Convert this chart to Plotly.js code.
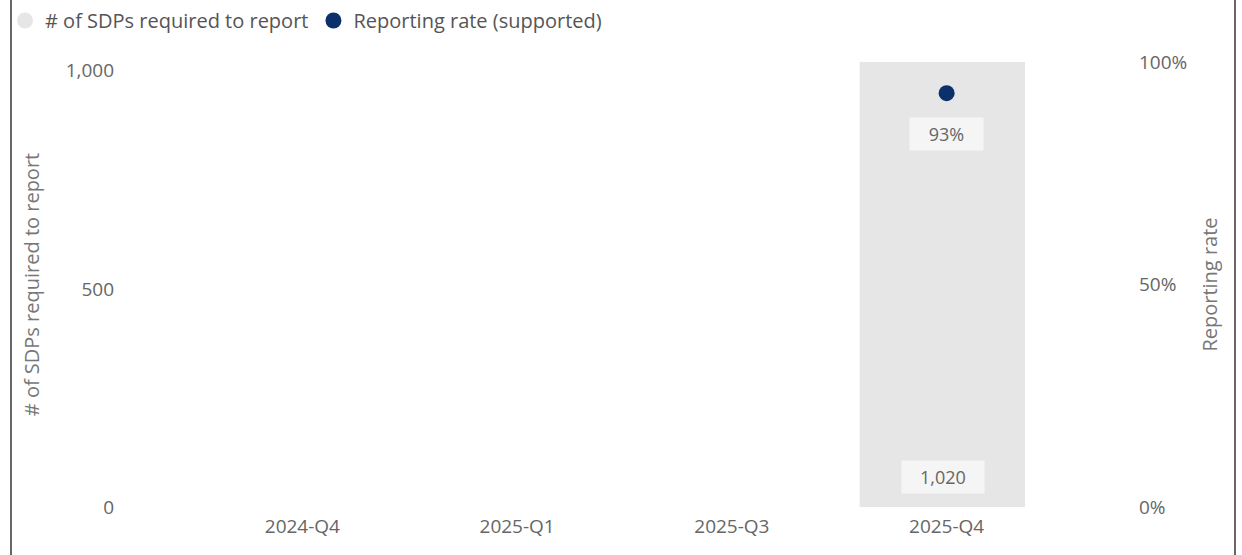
<!DOCTYPE html>
<html>
<head>
<meta charset="utf-8">
<script src="https://cdn.plot.ly/plotly-3.0.1.min.js"></script>
<style>
html,body{margin:0;padding:0;background:#fff;}
#wrap{position:relative;width:1242px;height:555px;}
#chart{width:1242px;height:555px;}
.edge{position:absolute;top:0;width:2px;height:555px;background:#6b6666;}
</style>
</head>
<body>
<div id="wrap">
<div id="chart"></div>
<div class="edge" style="left:10px"></div>
<div class="edge" style="left:1234px"></div>
</div>
<script>
const quarters = ["2024-Q4", "2025-Q1", "2025-Q3", "2025-Q4"];
const sdpsRequired = [null, null, null, 1020];
const reportingRate = [null, null, null, 0.93];
const seriesNames = ["# of SDPs required to report", "Reporting rate (supported)"];
const barColor = "#e6e6e6";
const dotColor = "#0b306b";
const font = "Open Sans, Noto Sans, sans-serif";

const traces = [
  {type: "bar", x: quarters, y: sdpsRequired, marker: {color: barColor}, width: 0.77, offset: -0.405,
   showlegend: false, hoverinfo: "skip", yaxis: "y"},
  {type: "scatter", mode: "markers", x: quarters, y: reportingRate, yaxis: "y2",
   marker: {color: dotColor, size: 16}, showlegend: false, hoverinfo: "skip"},
  {type: "scatter", mode: "markers", x: [null], y: [null], name: seriesNames[0],
   marker: {color: barColor, size: 17}},
  {type: "scatter", mode: "markers", x: [null], y: [null], name: seriesNames[1],
   marker: {color: dotColor, size: 17}}
];

const annotations = [];
const labelFont = {family: font, size: 18, color: "#666"};
quarters.forEach((q, i) => {
  if (sdpsRequired[i] != null) {
    annotations.push({x: q, y: 0, xref: "x", yref: "y", yshift: 30, xshift: -4,
      text: sdpsRequired[i].toLocaleString("en-US"), showarrow: false,
      font: labelFont, bgcolor: "#f5f5f5", borderpad: 1, width: 80, height: 30});
  }
  if (reportingRate[i] != null) {
    annotations.push({x: q, y: reportingRate[i], xref: "x", yref: "y2", yshift: -41,
      text: Math.round(reportingRate[i] * 100) + "%", showarrow: false,
      font: labelFont, bgcolor: "#f5f5f5", borderpad: 1, width: 71, height: 30});
  }
});

const layout = {
  width: 1242, height: 555,
  margin: {l: 194.5, r: 187.5, t: 62, b: 48},
  paper_bgcolor: "#fff", plot_bgcolor: "#fff",
  font: {family: font, size: 20, color: "#666"},
  showlegend: true,
  legend: {orientation: "h", x: 5 / 1242, xref: "container", y: 1 - 1 / 555, yref: "container",
    xanchor: "left", yanchor: "top", itemwidth: 30, font: {size: 20, color: "#555"},
    traceorder: "normal", itemclick: false},
  xaxis: {type: "category", showgrid: false, zeroline: false, showline: false, ticks: "",
    ticklabelstandoff: 6, tickfont: {size: 19, color: "#666"}},
  yaxis: {range: [0, 1020], tickvals: [0, 500, 1000], tickformat: ",d", showgrid: false,
    zeroline: false, showline: false, ticklabelstandoff: 80, tickfont: {size: 19, color: "#666"},
    title: {text: seriesNames[0], font: {size: 20, color: "#777"}, standoff: 20}},
  yaxis2: {overlaying: "y", side: "right", range: [0, 1], tickvals: [0, 0.5, 1],
    tickformat: ".0%", showgrid: false, zeroline: false, showline: false, ticklabelstandoff: 84,
    tickfont: {size: 19, color: "#666"},
    title: {text: "Reporting rate", font: {size: 20, color: "#777"}, standoff: 16}},
  annotations: annotations
};

Plotly.newPlot("chart", traces, layout, {displayModeBar: false, staticPlot: true});
</script>
</body>
</html>
